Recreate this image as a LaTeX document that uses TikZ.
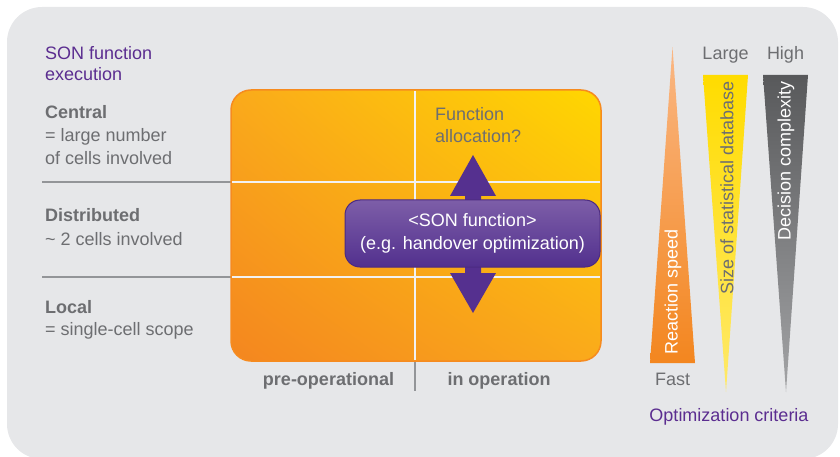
\documentclass[tikz,border=0pt]{standalone}
\usepackage{fontspec}
\setmainfont{Liberation Sans}
\usetikzlibrary{shadings}
\definecolor{bggrey}{HTML}{E6E7E9}
\definecolor{txtgrey}{HTML}{6D6E71}
\definecolor{sonpurple}{HTML}{5B2D90}
\definecolor{linegrey}{HTML}{939598}
\definecolor{gridwhite}{HTML}{F2F2F2}
\definecolor{boxorange}{HTML}{F4861F}
\definecolor{boxyellow}{HTML}{FFD700}
\definecolor{boxmid}{HTML}{FAAA1B}
\definecolor{boxedge}{HTML}{F68B1F}
\definecolor{purpletop}{HTML}{7D5EA8}
\definecolor{purplebot}{HTML}{52308E}
\definecolor{purpleedge}{HTML}{4B2A82}
\definecolor{arrowpurple}{HTML}{55308F}
\definecolor{triorangetop}{HTML}{FAB784}
\definecolor{triorangebot}{HTML}{F3861F}
\definecolor{triyellowtop}{HTML}{FFDC00}
\definecolor{triyellowbot}{HTML}{FFE96A}
\definecolor{trigreytop}{HTML}{58595B}
\definecolor{trigreybot}{HTML}{A3A4A6}
\tikzset{
  txt/.style={inner sep=0pt, font=\fontsize{18}{22}\selectfont, text=txtgrey, anchor=base west},
  btxt/.style={txt, font=\fontsize{18}{22}\selectfont\bfseries},
  ptxt/.style={txt, text=sonpurple},
  sepline/.style={draw=linegrey, line width=2pt},
  gridline/.style={draw=gridwhite, line width=2pt},
  rottxt/.style={inner sep=0pt, rotate=90, font=\fontsize{18}{22}\selectfont, anchor=center}
}
\begin{document}
\begin{tikzpicture}[x=1pt,y=-1pt]
\useasboundingbox (0,0) rectangle (840,457);
% background
\fill[bggrey, rounded corners=35pt] (7,7) rectangle (838,459);
% left texts
\node[ptxt] (son1) at (45,60) {SON function};
\node[ptxt] (son2) at (45,81) {execution};
\node[btxt] (cen1) at (45,119) {Central};
\node[txt] (cen2) at (45,142) {= large number};
\node[txt] (cen3) at (45,165) {of cells involved};
\node[btxt] (dis1) at (45,221) {Distributed};
\node[txt] (dis2) at (45,245) {\textasciitilde{} 2 cells involved};
\node[btxt] (loc1) at (45,313) {Local};
\node[txt] (loc2) at (45,335) {= single-cell scope};
% separator lines outside box
\draw[sepline] (42,182) -- (231,182);
\draw[sepline] (42,277) -- (231,277);
\draw[sepline] (415,361) -- (415,391);
% orange box
\shade[rounded corners=20pt, lower left=boxorange, upper right=boxyellow, upper left=boxmid, lower right=boxmid]
  (231,90) rectangle (601,361);
% grid lines
\draw[gridline] (232,182) -- (600,182);
\draw[gridline] (232,277) -- (600,277);
\draw[gridline] (415,91) -- (415,360);
\draw[boxedge, line width=1.5pt, rounded corners=20pt] (231,90) rectangle (601,361);
% box labels
\node[txt] (fa1) at (435,121) {Function};
\node[txt] (fa2) at (435,143) {allocation?};
\node[btxt, anchor=base] (preop) at (328.5,385) {pre-operational};
\node[btxt, anchor=base] (inop) at (499,385) {in operation};
% double arrow
\fill[arrowpurple] (473,155) -- (496,196) -- (481,196) -- (481,273) -- (496,273) -- (473,313)
  -- (450,273) -- (465,273) -- (465,196) -- (450,196) -- cycle;
% SON function box
\node[rounded corners=15pt, top color=purpletop, bottom color=purplebot, draw=purpleedge, line width=1pt,
  minimum width=255pt, minimum height=67pt, align=center, text=white, inner sep=0pt,
  font=\fontsize{18}{23}\selectfont] (sonbox) at (472.5,233.5)
  {<SON function>\\(e.g. handover optimization)};
% triangles
\shade[top color=triorangetop, bottom color=triorangebot] (650,363) -- (672.5,47) -- (695,363) -- cycle;
\shade[top color=triyellowtop, bottom color=triyellowbot] (703,75) -- (748,75) -- (726,392) -- cycle;
\shade[top color=trigreytop, bottom color=trigreybot] (763,75) -- (808,75) -- (786,392) -- cycle;
\node[rottxt, text=white] (rs) at (673,292) {Reaction speed};
\node[rottxt, text=txtgrey] (sdb) at (727,188) {Size of statistical database};
\node[rottxt, text=white] (dc) at (786,161) {Decision complexity};
\node[txt, anchor=base] (large) at (725.5,60) {Large};
\node[txt, anchor=base] (high) at (785.5,60) {High};
\node[txt, anchor=base] (fast) at (672.5,385) {Fast};
\node[ptxt, anchor=base] (optc) at (729,421) {Optimization criteria};
\end{tikzpicture}
\end{document}
